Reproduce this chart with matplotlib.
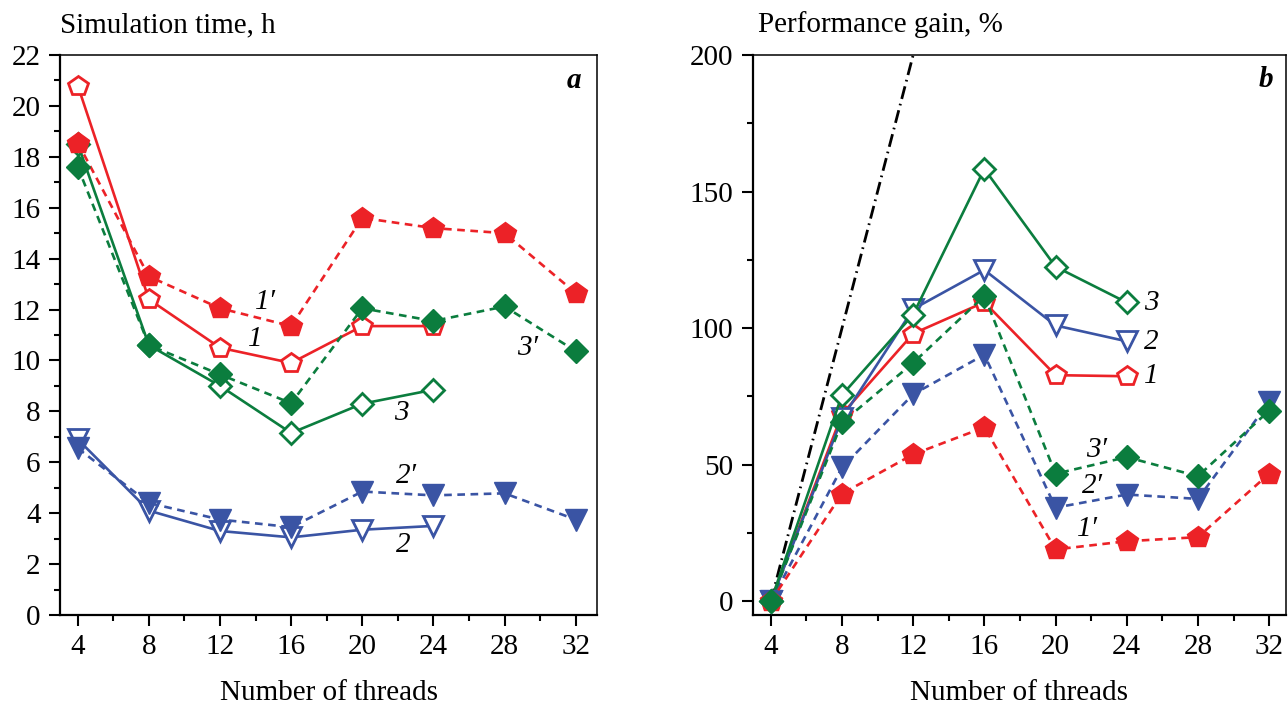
import matplotlib
matplotlib.use("Agg")
import matplotlib.pyplot as plt
from matplotlib.ticker import MultipleLocator

plt.rcParams['font.family'] = ['Liberation Serif', 'DejaVu Serif']

# Thread counts
threads = [4, 8, 12, 16, 20, 24, 28, 32]

# Simulation time, h
time_1 = [20.8, 12.4, 10.5, 9.9, 11.35, 11.35]
time_1p = [18.55, 13.3, 12.05, 11.35, 15.6, 15.2, 15.0, 12.65]
time_2 = [6.9, 4.1, 3.3, 3.05, 3.35, 3.5]
time_2p = [6.55, 4.4, 3.75, 3.45, 4.85, 4.7, 4.78, 3.75]
time_3 = [18.5, 10.6, 9.0, 7.15, 8.3, 8.85]
time_3p = [17.6, 10.6, 9.45, 8.32, 12.05, 11.55, 12.12, 10.37]

# Performance gain, %
gain_1 = [0, 68.5, 98, 109.5, 82.8, 82.4]
gain_1p = [0, 39.4, 53.8, 63.7, 19.0, 22.0, 23.5, 46.7]
gain_2 = [0, 67, 107, 121.3, 101, 95.2]
gain_2p = [0, 49, 75.8, 90.3, 34.3, 39.1, 37.5, 73.0]
gain_3 = [0, 75.5, 105, 158.3, 122.5, 109.4]
gain_3p = [0, 65.5, 87.3, 111.8, 46.7, 52.8, 45.8, 69.8]

# Ideal (linear) scaling
ideal_threads = [4, 8, 12]
ideal_gain = [0, 100, 200]

RED = '#ec2227'
BLUE = '#3a54a4'
GREEN = '#0b7d3e'
DASH = (0, (2.9, 2.1))
LW = 1.9
FS = 21

fig = plt.figure(figsize=(12.88, 7.05), dpi=100)
ax_a = fig.add_axes([60 / 1288, 90 / 705, 537 / 1288, 560 / 705])
ax_b = fig.add_axes([753 / 1288, 90 / 705, 533 / 1288, 560 / 705])


def draw(ax, y1, y1p, y2, y2p, y3, y3p):
    n = len(y1)
    # solid lines, open markers
    ax.plot(threads[:n], y1, '-', color=RED, lw=LW, marker='p', ms=15,
            mfc='white', mec=RED, mew=2, zorder=3)
    ax.plot(threads[:n], y2, '-', color=BLUE, lw=LW, marker='v', ms=15,
            mfc='white', mec=BLUE, mew=2, zorder=3)
    ax.plot(threads[:n], y3, '-', color=GREEN, lw=LW, marker='D', ms=11.5,
            mfc='white', mec=GREEN, mew=2, zorder=3)
    # dashed lines, filled markers
    ax.plot(threads, y2p, ls=DASH, color=BLUE, lw=LW, marker='v', ms=15.5,
            mfc=BLUE, mec=BLUE, zorder=4)
    ax.plot(threads, y1p, ls=DASH, color=RED, lw=LW, marker='p', ms=16,
            mfc=RED, mec=RED, zorder=4)
    ax.plot(threads, y3p, ls=DASH, color=GREEN, lw=LW, marker='D', ms=12,
            mfc=GREEN, mec=GREEN, zorder=4)


def style(ax):
    ax.xaxis.set_major_locator(MultipleLocator(4))
    ax.xaxis.set_minor_locator(MultipleLocator(2))
    ax.tick_params(which='major', direction='out', length=8, width=1.5,
                   labelsize=FS, pad=6)
    ax.tick_params(which='minor', direction='out', length=4, width=1.5)
    for side in ('left', 'bottom'):
        ax.spines[side].set_linewidth(1.6)
    for side in ('top', 'right'):
        ax.spines[side].set_linewidth(1.1)
    ax.set_xlabel('Number of threads', fontsize=FS, labelpad=14)


# (a) simulation time
draw(ax_a, time_1, time_1p, time_2, time_2p, time_3, time_3p)
ax_a.set_xlim(3.0, 33.2)
ax_a.set_ylim(0, 22)
ax_a.yaxis.set_major_locator(MultipleLocator(2))
ax_a.yaxis.set_minor_locator(MultipleLocator(1))
style(ax_a)
ax_a.text(0, 1.03, 'Simulation time, h', transform=ax_a.transAxes,
          fontsize=FS, ha='left', va='bottom')
ax_a.text(31.9, 21.0, 'a', fontsize=FS, fontweight='bold', style='italic',
          ha='center', va='center')
for txt, x, y in [('1′', 14.55, 12.3), ('1', 14.0, 10.85), ('3', 22.2, 7.95),
                  ('3′', 29.3, 10.5), ('2′', 22.5, 5.45), ('2', 22.3, 2.75)]:
    ax_a.text(x, y, txt, fontsize=FS, style='italic', ha='center', va='center')

# (b) performance gain
ax_b.plot(ideal_threads, ideal_gain, color='black', lw=2,
          ls=(0, (4.7, 1.8, 0.6, 1.8)), zorder=2)
draw(ax_b, gain_1, gain_1p, gain_2, gain_2p, gain_3, gain_3p)
ax_b.set_xlim(3.0, 32.95)
ax_b.set_ylim(-5, 200)
ax_b.yaxis.set_major_locator(MultipleLocator(50))
ax_b.yaxis.set_minor_locator(MultipleLocator(25))
style(ax_b)
ax_b.text(0.01, 1.03, 'Performance gain, %', transform=ax_b.transAxes,
          fontsize=FS, ha='left', va='bottom')
ax_b.text(31.8, 191, 'b', fontsize=FS, fontweight='bold', style='italic',
          ha='center', va='center')
for txt, x, y in [('3', 25.4, 109.1), ('2', 25.4, 95.0), ('1', 25.4, 82.4),
                  ('3′', 22.3, 55.5), ('2′', 22.05, 42.1), ('1′', 21.8, 26.3)]:
    ax_b.text(x, y, txt, fontsize=FS, style='italic', ha='center', va='center')

fig.savefig('out.png', dpi=100)
